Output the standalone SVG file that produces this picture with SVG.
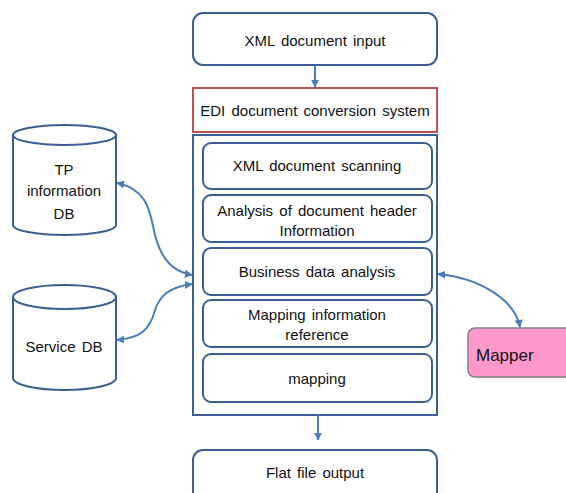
<svg xmlns="http://www.w3.org/2000/svg" width="566" height="493" viewBox="0 0 566 493">
<style>
.box{fill:#fff;stroke:#3A5F95;stroke-width:2}
.txt{font-family:"Liberation Sans",Arial,sans-serif;font-size:15px;fill:#111;text-anchor:middle;word-spacing:2px}
.con{fill:none;stroke:#4A7EBB;stroke-width:2}
</style>
<defs>
<marker id="ah" viewBox="0 0 10 10" refX="9" refY="5" markerWidth="4" markerHeight="4" orient="auto-start-reverse">
<path d="M0,0 L10,5 L0,10 z" fill="#4A7EBB"/>
</marker>
</defs>
<rect width="566" height="493" fill="#fff"/>
<g id="xml-input"><rect class="box" x="193" y="13" width="244" height="52" rx="10"/><text class="txt" x="315" y="46">XML document input</text></g>
<g id="edi-system"><rect x="193" y="88" width="244" height="44" fill="#fff" stroke="#C0504D" stroke-width="2"/><text class="txt" x="315" y="116">EDI document conversion system</text></g>
<g id="container"><rect x="193" y="135" width="244" height="280" fill="none" stroke="#3A5F95" stroke-width="2"/></g>
<g id="scanning"><rect class="box" x="203" y="143" width="229" height="46" rx="8"/><text class="txt" x="317" y="171">XML document scanning</text></g>
<g id="header-analysis"><rect class="box" x="203" y="195" width="229" height="47" rx="8"/><text class="txt" x="317" y="216">Analysis of document header</text><text class="txt" x="317" y="236">Information</text></g>
<g id="business"><rect class="box" x="203" y="248" width="229" height="47" rx="8"/><text class="txt" x="317" y="277">Business data analysis</text></g>
<g id="mapping-info"><rect class="box" x="203" y="300" width="229" height="47" rx="8"/><text class="txt" x="317" y="320">Mapping information</text><text class="txt" x="317" y="340">reference</text></g>
<g id="mapping"><rect class="box" x="203" y="354" width="229" height="48" rx="8"/><text class="txt" x="317" y="384">mapping</text></g>
<g id="flat-output"><rect class="box" x="193" y="450" width="244" height="52" rx="10"/><text class="txt" x="315" y="478">Flat file output</text></g>
<g id="tp-db"><path class="box" d="M13,135 L13,225 A51.5,10 0 0 0 116,225 L116,135"/><ellipse class="box" cx="64.5" cy="135" rx="51.5" ry="10"/><text class="txt" x="64" y="175">TP</text><text class="txt" x="64" y="196">information</text><text class="txt" x="64" y="219">DB</text></g>
<g id="service-db"><path class="box" d="M13,297 L13,378 A51.5,12 0 0 0 116,378 L116,297"/><ellipse class="box" cx="64.5" cy="297" rx="51.5" ry="12"/><text class="txt" x="64" y="352">Service DB</text></g>
<g id="mapper"><rect x="468" y="328" width="110" height="49" rx="7" fill="#FF99CC" stroke="#7F7F7F" stroke-width="1.5"/><text x="476" y="361" font-family="'Liberation Sans',Arial,sans-serif" font-size="17" fill="#111">Mapper</text></g>
<g id="connectors">
<path class="con" d="M315,65 L315,87" marker-end="url(#ah)"/>
<path class="con" d="M318,415 L318,440" marker-end="url(#ah)"/>
<path class="con" d="M117,183 C150,190 150,215 155,235 C162,262 175,272 192,275" marker-start="url(#ah)" marker-end="url(#ah)"/>
<path class="con" d="M192,284 C170,287 160,295 155,310 C150,330 140,338 117,340" marker-start="url(#ah)" marker-end="url(#ah)"/>
<path class="con" d="M438,274 C480,278 515,300 520,327" marker-start="url(#ah)" marker-end="url(#ah)"/>
</g>
</svg>
